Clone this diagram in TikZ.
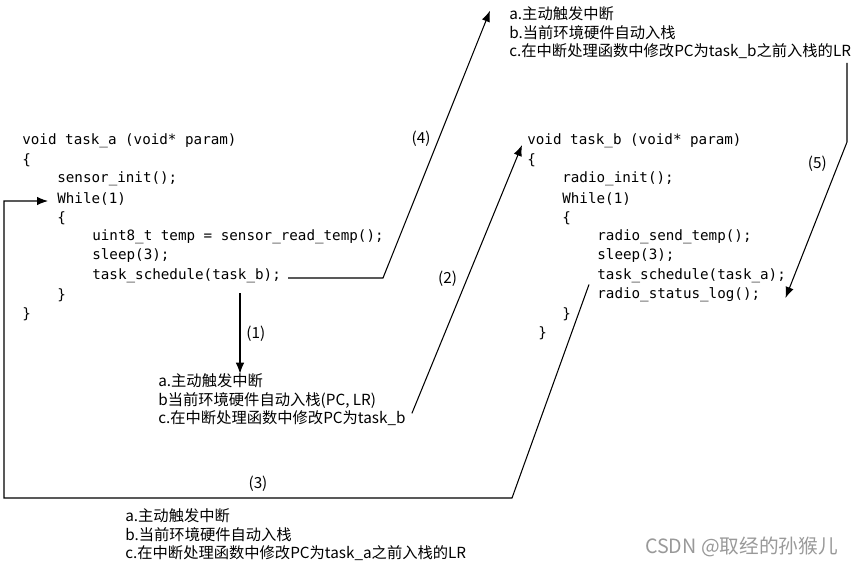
\documentclass[tikz,border=0pt]{standalone}
\usepackage{fontspec}
\setmonofont{DejaVu Sans Mono}
\newfontfamily\cjk{Noto Sans CJK SC}
\usetikzlibrary{arrows.meta}
\usepackage{xcolor}

\begin{document}
\begin{tikzpicture}[x=0.02cm,y=-0.02cm,
    code/.style={anchor=west,inner sep=0pt,font=\fontsize{8.1}{9}\selectfont\ttfamily},
    note/.style={anchor=west,inner sep=0pt,align=left,font=\fontsize{8.7}{10.5}\selectfont\cjk},
    lbl/.style={font=\fontsize{8.7}{10.5}\selectfont\cjk},
    arr/.style={-{Latex[length=2.2mm,width=1.7mm]},line width=0.6pt}]
    \useasboundingbox (0,0) rectangle (857,566);
    % task_a
    \node[code](a1) at (22,141){void task\_a (void* param)};
    \node[code](a2) at (22,160){\{};
    \node[code](a3) at (57,179){sensor\_init();};
    \node[code](a4) at (57,199){While(1)};
    \node[code](a5) at (57,218){\{};
    \node[code](a6) at (92,237){uint8\_t temp = sensor\_read\_temp();};
    \node[code](a7) at (92,256){sleep(3);};
    \node[code](a8) at (92,276){task\_schedule(task\_b);};
    \node[code](a9) at (57,295){\}};
    \node[code](a10) at (22,314){\}};
    % task_b
    \node[code](b1) at (527,141){void task\_b (void* param)};
    \node[code](b2) at (527,160){\{};
    \node[code](b3) at (562,179){radio\_init();};
    \node[code](b4) at (562,199){While(1)};
    \node[code](b5) at (562,218){\{};
    \node[code](b6) at (597,237){radio\_send\_temp();};
    \node[code](b7) at (597,256){sleep(3);};
    \node[code](b8) at (597,276){task\_schedule(task\_a);};
    \node[code](b9) at (597,295){radio\_status\_log();};
    \node[code](b10) at (562,314){\}};
    \node[code](b11) at (538,333){\}};
    % notes
    \node[note](topnote) at (509,33){a.主动触发中断\\b.当前环境硬件自动入栈\\c.在中断处理函数中修改PC为task\_b之前入栈的LR};
    \node[note](midnote) at (158,400){a.主动触发中断\\b当前环境硬件自动入栈(PC, LR)\\c.在中断处理函数中修改PC为task\_b};
    \node[note](botnote) at (125,535){a.主动触发中断\\b.当前环境硬件自动入栈\\c.在中断处理函数中修改PC为task\_a之前入栈的LR};
    \node[font=\fontsize{11.2}{12}\selectfont\cjk,text=black!40,anchor=east](mark) at (844,547){CSDN @取经的孙猴儿};
    % bends
    \coordinate (s1) at (240,293);
    \coordinate (k4) at (383,278);
    \coordinate (k5) at (847,142);
    \coordinate (k3a) at (512,498);
    \coordinate (k3b) at (4,498);
    \draw[arr](s1)--node[lbl,right,pos=0.5]{(1)}(s1 |- midnote.north);
    \draw[arr]([shift={(6,-13)}]midnote.south east)--node[lbl,left=2pt,pos=0.5]{(2)}([shift={(-5,4)}]b1.west);
    \draw[arr]([shift={(-8,1)}]b8.south west)--(k3a)--node[lbl,above]{(3)}(k3b)|-([shift={(-9,2)}]a4.west);
    \draw[arr]([shift={(7,2)}]a8.east)--(k4)--node[lbl,left=1pt,pos=0.52]{(4)}([shift={(-19,4)}]topnote.north west);
    \draw[arr]([yshift=-2pt]k5 |- topnote.south)--(k5)--node[lbl,left=3pt,pos=0.14]{(5)}([shift={(25,3)}]b9.east);
\end{tikzpicture}
\end{document}
